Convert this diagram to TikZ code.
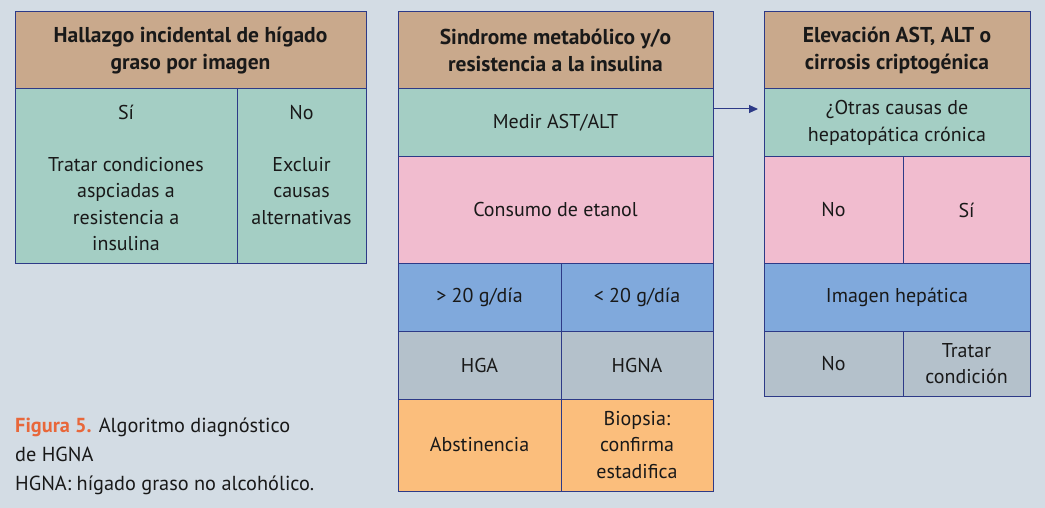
\documentclass[tikz,border=0pt]{standalone}
\usepackage{fontspec}
\setmainfont{PT Sans}
\usetikzlibrary{arrows.meta}
\definecolor{bg}{HTML}{D3DCE4}
\definecolor{tan}{HTML}{C9A98C}
\definecolor{teal}{HTML}{A4CEC4}
\definecolor{pinkc}{HTML}{F1BCCF}
\definecolor{bluec}{HTML}{80A9DC}
\definecolor{grayc}{HTML}{B4C1CB}
\definecolor{orangec}{HTML}{FBBE7C}
\definecolor{navy}{HTML}{2D3A87}
\definecolor{capor}{HTML}{E8673A}
\begin{document}
\begin{tikzpicture}[x=1pt,y=-1pt,
  cell/.style={draw=navy,line width=1pt,inner sep=0pt,align=center,
    font=\fontsize{20}{26.5}\selectfont,text=black!90},
  hdr/.style={cell,fill=tan,font=\fontsize{21.5}{27}\bfseries\selectfont},
  captxt/.style={anchor=base west,inner sep=0pt,font=\fontsize{20.3}{26}\selectfont,text=black!90}]
\fill[bg] (0,0) rectangle (1045,508);
\useasboundingbox (0,0) rectangle (1045,508);
% left table
\node[hdr,minimum width=351pt,minimum height=77pt] (h1) at (190.5,50.5) {Hallazgo incidental de hígado\\graso por imagen};
\node[cell,fill=teal,minimum width=222pt,minimum height=174pt] (si1) at (126,176) {\rule{0pt}{2pt}\\[-10pt]Sí\\[25pt]Tratar condiciones\\aspciadas a\\resistencia a\\insulina};
\node[cell,fill=teal,minimum width=129pt,minimum height=174pt] (no1) at (301.5,176) {\rule{0pt}{2pt}\\[-10pt]No\\[25pt]Excluir\\causas\\alternativas\\\phantom{insulina}};
% middle table
\node[hdr,minimum width=315pt,minimum height=77pt] (h2) at (555.5,50.5) {Sindrome metabólico y/o\\resistencia a la insulina};
\node[cell,fill=teal,minimum width=315pt,minimum height=68pt] (medir) at (555.5,123) {Medir AST/ALT};
\node[cell,fill=pinkc,minimum width=315pt,minimum height=106pt] (etanol) at (555.5,210) {Consumo de etanol};
\node[cell,fill=bluec,minimum width=163pt,minimum height=68pt] (mas) at (479.5,297) {> 20 g/día};
\node[cell,fill=bluec,minimum width=152pt,minimum height=68pt] (menos) at (637,297) {< 20 g/día};
\node[cell,fill=grayc,minimum width=163pt,minimum height=68pt] (hga) at (479.5,365) {HGA};
\node[cell,fill=grayc,minimum width=152pt,minimum height=68pt] (hgna) at (637,365) {HGNA};
\node[cell,fill=orangec,minimum width=163pt,minimum height=92pt] (abst) at (479.5,445) {Abstinencia};
\node[cell,fill=orangec,minimum width=152pt,minimum height=92pt] (biop) at (637,445) {Biopsia:\\confirma\\estadifica};
% right table
\node[hdr,minimum width=266pt,minimum height=77pt] (h3) at (897,50.5) {Elevación AST, ALT o\\cirrosis criptogénica};
\node[cell,fill=teal,minimum width=266pt,minimum height=68pt] (otras) at (897,123) {¿Otras causas de\\hepatopática crónica};
\node[cell,fill=pinkc,minimum width=139pt,minimum height=106pt] (no2) at (833.5,210) {No};
\node[cell,fill=pinkc,minimum width=127pt,minimum height=106pt] (si2) at (966.5,210) {Sí};
\node[cell,fill=bluec,minimum width=266pt,minimum height=68pt] (imagen) at (897,297) {Imagen hepática};
\node[cell,fill=grayc,minimum width=139pt,minimum height=65pt] (no3) at (833.5,363.5) {No};
\node[cell,fill=grayc,minimum width=127pt,minimum height=65pt] (tratar) at (966.5,363.5) {Tratar\\condición};
% arrow
\coordinate (a1) at (713,109);
\coordinate (a2) at (758,109);
\draw[navy,line width=1pt,-{Triangle[length=9pt,width=8pt]}] (a1) -- (a2);
% caption
\node[captxt] (c1) at (15,432) {\textcolor{capor}{\bfseries Figura 5.} Algoritmo diagnóstico};
\node[captxt] (c2) at (15,461) {de HGNA};
\node[captxt] (c3) at (15,490) {HGNA: hígado graso no alcohólico.};
\end{tikzpicture}
\end{document}
